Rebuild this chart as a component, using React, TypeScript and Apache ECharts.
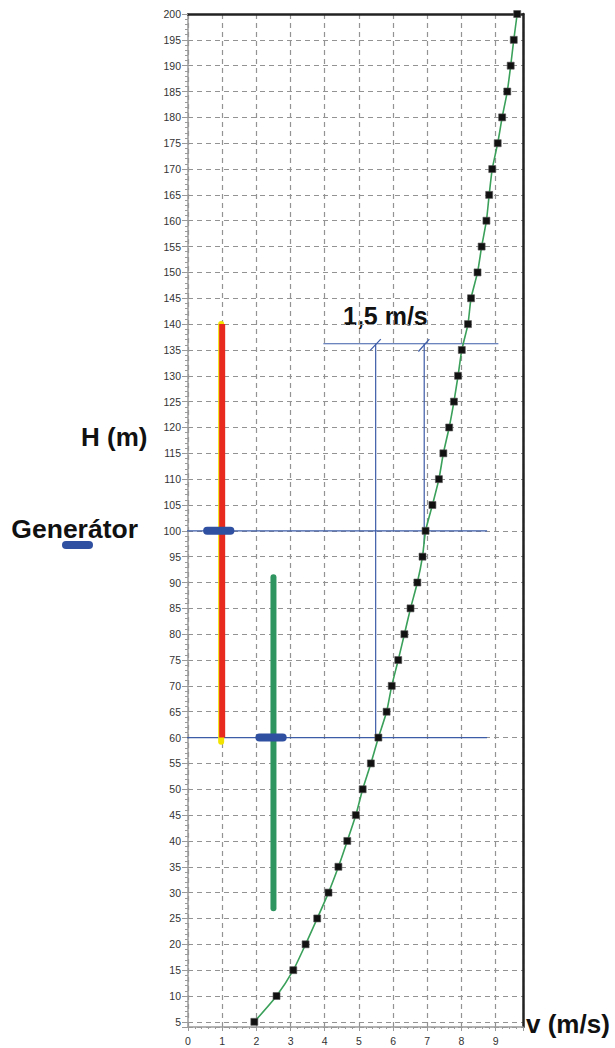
import React, { useEffect, useRef } from "react";
import * as echarts from "echarts";

// Curve: wind speed v (m/s) vs height H (m)
const heights = [5, 10, 15, 20, 25, 30, 35, 40, 45, 50, 55, 60, 65, 70, 75, 80, 85, 90, 95, 100, 105, 110, 115, 120, 125, 130, 135, 140, 145, 150, 155, 160, 165, 170, 175, 180, 185, 190, 195, 200];
const speeds = [1.94, 2.59, 3.08, 3.44, 3.78, 4.11, 4.40, 4.66, 4.91, 5.11, 5.35, 5.57, 5.81, 5.96, 6.15, 6.33, 6.51, 6.71, 6.86, 6.95, 7.15, 7.34, 7.47, 7.64, 7.78, 7.90, 8.01, 8.19, 8.28, 8.47, 8.59, 8.73, 8.81, 8.90, 9.06, 9.19, 9.34, 9.44, 9.53, 9.63];

// Annotation marks [v, H]
const yellowBar = [[0.97, 59.2], [0.97, 140]];
const redBar = [[1.0, 60], [1.0, 140]];
const greenBar = [[2.5, 27], [2.5, 91]];
const generatorBar = [[0.56, 100], [1.24, 100]];
const lowBar = [[2.09, 60], [2.77, 60]];
const guide100 = [[-1.35, 100], [8.75, 100]];
const guide60 = [[-1.39, 60], [8.75, 60]];
const guideTop = [[3.96, 136.2], [9.08, 136.2]];
const guideV1 = [[5.49, 136.2], [5.49, 60]];
const guideV2 = [[6.91, 136.2], [6.91, 97.5]];
const slash1 = [[5.33, 134.9], [5.64, 137.1]];
const slash2 = [[6.74, 134.7], [7.06, 137.1]];

const xTickLabels = ["0", "1", "2", "3", "4", "5", "6", "7", "8", "9"];

function lineSeries(data: number[][], color: string, width: number, z: number, cap = "butt") {
  return {
    type: "line",
    data,
    symbol: "none",
    clip: false,
    silent: true,
    z,
    lineStyle: { color, width, cap },
  };
}

export default function App() {
  const ref = useRef<HTMLDivElement>(null);
  useEffect(() => {
    if (!ref.current) return;
    const chart = echarts.init(ref.current, null, { renderer: "svg" });
    const curve = heights.map((h, i) => [speeds[i], h]);
    const bold = { fontFamily: "Liberation Sans, Arial, sans-serif", fontWeight: "bold", fill: "#111" };
    chart.setOption({
      animation: false,
      backgroundColor: "#ffffff",
      grid: { left: 188, right: 92, top: 14, bottom: 21, containLabel: false },
      xAxis: [
        {
          type: "value",
          min: 0,
          max: 9.8,
          interval: 1,
          axisLine: { show: true, lineStyle: { color: "#9a9a9a", width: 1.5 } },
          axisTick: { show: true, length: 4, lineStyle: { color: "#9a9a9a" } },
          minorTick: { show: true, splitNumber: 5, length: 2, lineStyle: { color: "#9a9a9a" } },
          splitLine: { show: true, lineStyle: { color: "#939393", width: 1.2, type: [5, 4] } },
          axisLabel: {
            color: "#333",
            fontSize: 10.5,
            fontFamily: "Liberation Sans, Arial, sans-serif",
            margin: 8,
            formatter: (v: number) => (Number.isInteger(v) && v >= 0 && v <= 9 ? xTickLabels[v] : ""),
          },
        },
        {
          type: "value",
          position: "top",
          min: 0,
          max: 9.8,
          axisLine: { show: true, onZero: false, lineStyle: { color: "#222", width: 2.5 } },
          axisTick: { show: false },
          axisLabel: { show: false },
          splitLine: { show: false },
        },
      ],
      yAxis: [
        {
          type: "value",
          min: 4,
          max: 200,
          splitNumber: 40,
          axisLine: { show: true, lineStyle: { color: "#9a9a9a", width: 1.5 } },
          axisTick: { show: true, length: 6, lineStyle: { color: "#9a9a9a" } },
          minorTick: { show: true, splitNumber: 5, length: 3, lineStyle: { color: "#9a9a9a" } },
          splitLine: { show: true, lineStyle: { color: "#939393", width: 1.2, type: [5, 4] } },
          axisLabel: {
            color: "#333",
            fontSize: 10.5,
            fontFamily: "Liberation Sans, Arial, sans-serif",
            margin: 7,
            formatter: (v: number) => (v % 5 === 0 ? String(v) : ""),
          },
        },
        {
          type: "value",
          position: "right",
          min: 4,
          max: 200,
          axisLine: { show: true, onZero: false, lineStyle: { color: "#222", width: 2.5 } },
          axisTick: { show: false },
          axisLabel: { show: false },
          splitLine: { show: false },
        },
      ],
      series: [
        lineSeries(guide100, "#3d5ca8", 1.2, 3),
        lineSeries(guide60, "#3d5ca8", 1.2, 3),
        lineSeries(guideTop, "#3d5ca8", 1.2, 3),
        lineSeries(guideV1, "#3d5ca8", 1.2, 3),
        lineSeries(guideV2, "#3d5ca8", 1.2, 3),
        lineSeries(slash1, "#3d5ca8", 1.2, 3),
        lineSeries(slash2, "#3d5ca8", 1.2, 3),
        lineSeries(yellowBar, "#f2e400", 6, 4, "round"),
        lineSeries(redBar, "#e8291e", 6, 5, "butt"),
        lineSeries(greenBar, "#2e9560", 6, 5, "round"),
        lineSeries(generatorBar, "#2f4fa0", 8, 6, "round"),
        lineSeries(lowBar, "#2f4fa0", 8, 6, "round"),
        {
          type: "line",
          data: curve,
          z: 7,
          smooth: 0.2,
          symbol: "rect",
          symbolSize: 7,
          showAllSymbol: true,
          itemStyle: { color: "#111", borderColor: "#555", borderWidth: 0.6 },
          lineStyle: { color: "#3aa05a", width: 1.6 },
        },
      ],
      graphic: [
        { type: "text", left: 81, top: 424, style: { ...bold, text: "H (m)", fontSize: 26 } },
        { type: "text", right: 615 - 138, top: 515, style: { ...bold, text: "Generátor", fontSize: 26.5 } },
        { type: "rect", shape: { x: 62, y: 541, width: 31, height: 8, r: 4 }, style: { fill: "#2f4fa0" } },
        { type: "text", left: 343, top: 303, style: { ...bold, text: "1,5 m/s", fontSize: 25 } },
        { type: "text", left: 526, top: 1011, style: { ...bold, text: "v (m/s)", fontSize: 26 } },
      ],
    });
    return () => chart.dispose();
  }, []);
  return (
    <div
      ref={ref}
      style={{ position: "absolute", left: 0, top: 0, width: 615, height: 1048, background: "#fff" }}
    />
  );
}
